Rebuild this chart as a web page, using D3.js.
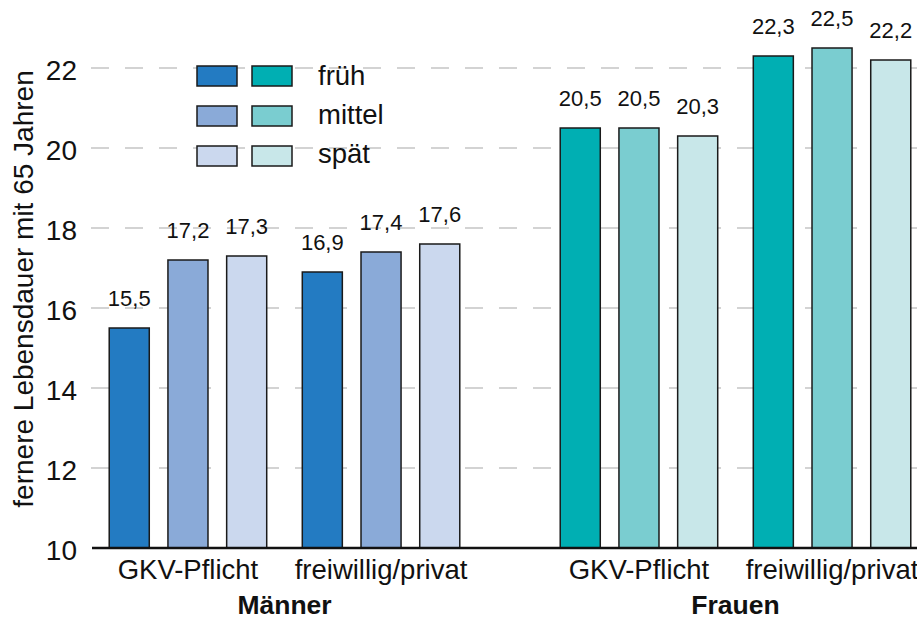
<!DOCTYPE html>
<html>
<head>
<meta charset="utf-8">
<script src="https://cdn.jsdelivr.net/npm/d3@7"></script>
<style>
  body { margin: 0; background: #fff; }
  text { font-family: "Liberation Sans", Arial, sans-serif; fill: #111; }
</style>
</head>
<body>
<svg id="chart"></svg>
<script>
// data
const sexes = ['Männer', 'Frauen'];
const types = ['GKV-Pflicht', 'freiwillig/privat'];
const periods = ['früh', 'mittel', 'spät'];
const maennerGKV = [15.5, 17.2, 17.3];
const maennerFrei = [16.9, 17.4, 17.6];
const frauenGKV = [20.5, 20.5, 20.3];
const frauenFrei = [22.3, 22.5, 22.2];
const yTicks = [10, 12, 14, 16, 18, 20, 22];
const colorsMaenner = ['#237bc2', '#8aaad8', '#cbd8ee'];
const colorsFrauen = ['#00afb3', '#7acdd0', '#c8e7e9'];

const values = {
    'Männer': { 'GKV-Pflicht': maennerGKV, 'freiwillig/privat': maennerFrei },
    'Frauen': { 'GKV-Pflicht': frauenGKV, 'freiwillig/privat': frauenFrei }
};
const colors = { 'Männer': colorsMaenner, 'Frauen': colorsFrauen };

const rows = [];
sexes.forEach(s => types.forEach(t => periods.forEach((p, i) => {
    rows.push({ sex: s, type: t, period: p, value: values[s][t][i], color: colors[s][i] });
})));

const width = 917, height = 620;
const svg = d3.select('#chart').attr('width', width).attr('height', height);

const x0 = d3.scaleBand().domain(sexes).range([59, 961]);
const x1 = d3.scaleBand().domain(types).range([0, x0.bandwidth()])
    .paddingInner(0).paddingOuter(0.168);
const x2 = d3.scaleBand().domain(periods).range([0, x1.bandwidth()])
    .paddingInner(0.318).paddingOuter(0.303);
const y = d3.scaleLinear().domain([10, 22]).range([548, 68]);

const fmt = v => d3.format('.1f')(v).replace('.', ',');

// gridlines
svg.append('g')
    .selectAll('line')
    .data(yTicks.filter(d => d > 10))
    .join('line')
    .attr('x1', 91).attr('x2', width)
    .attr('y1', d => y(d)).attr('y2', d => y(d))
    .attr('stroke', '#d3d3d3')
    .attr('stroke-width', 2)
    .attr('stroke-dasharray', '18,16');

// y axis labels
const yAxis = svg.append('g')
    .attr('transform', 'translate(92,0)')
    .call(d3.axisLeft(y).tickValues(yTicks).tickSize(0).tickPadding(15));
yAxis.select('.domain').remove();
yAxis.selectAll('text')
    .style('font-family', '"Liberation Sans", Arial, sans-serif')
    .style('font-size', '28px')
    .attr('fill', '#111')
    .attr('dy', '0.42em');

svg.append('text')
    .attr('transform', 'translate(33,289) rotate(-90)')
    .attr('text-anchor', 'middle')
    .style('font-size', '28px')
    .text('fernere Lebensdauer mit 65 Jahren');

// bars
const xPos = d => x0(d.sex) + x1(d.type) + x2(d.period);

svg.append('g')
    .selectAll('rect')
    .data(rows)
    .join('rect')
    .attr('x', xPos)
    .attr('y', d => y(d.value))
    .attr('width', x2.bandwidth())
    .attr('height', d => y(10) - y(d.value))
    .attr('fill', d => d.color)
    .attr('stroke', '#1a1a1a')
    .attr('stroke-width', 1.5);

svg.append('g')
    .selectAll('text')
    .data(rows)
    .join('text')
    .attr('x', d => xPos(d) + x2.bandwidth() / 2)
    .attr('y', d => y(d.value) - 22)
    .attr('text-anchor', 'middle')
    .style('font-size', '22px')
    .text(d => fmt(d.value));

// x axis line
svg.append('line')
    .attr('x1', 92).attr('x2', width)
    .attr('y1', y(10)).attr('y2', y(10))
    .attr('stroke', '#111')
    .attr('stroke-width', 2.5);

// category labels
sexes.forEach(s => {
    types.forEach(t => {
        svg.append('text')
            .attr('x', x0(s) + x1(t) + x1.bandwidth() / 2)
            .attr('y', 579)
            .attr('text-anchor', 'middle')
            .style('font-size', '27.5px')
            .text(t);
    });
    svg.append('text')
        .attr('x', x0(s) + x0.bandwidth() / 2)
        .attr('y', 614)
        .attr('text-anchor', 'middle')
        .style('font-size', '26.5px')
        .style('font-weight', 'bold')
        .attr('fill', '#222')
        .text(s);
});

// legend
const legend = svg.append('g').attr('transform', 'translate(197,66)');
periods.forEach((p, i) => {
    const row = legend.append('g').attr('transform', `translate(0,${i * 40})`);
    row.append('rect')
        .attr('width', 40).attr('height', 20)
        .attr('fill', colorsMaenner[i])
        .attr('stroke', '#1a1a1a').attr('stroke-width', 1.5);
    row.append('rect')
        .attr('x', 55)
        .attr('width', 40).attr('height', 20)
        .attr('fill', colorsFrauen[i])
        .attr('stroke', '#1a1a1a').attr('stroke-width', 1.5);
    row.append('text')
        .attr('x', 121)
        .attr('y', 19 - i)
        .style('font-size', '27.5px')
        .text(p);
});
</script>
</body>
</html>
